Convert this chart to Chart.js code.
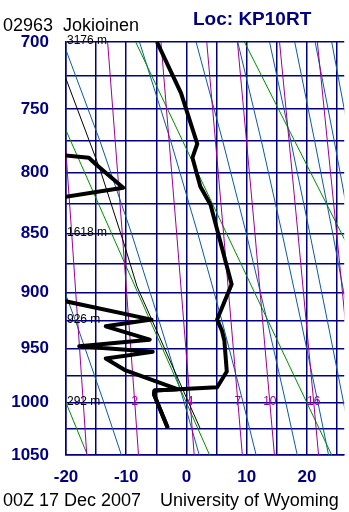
<!DOCTYPE html>
<html><head><meta charset="utf-8">
<script src="https://cdn.jsdelivr.net/npm/chart.js@4/dist/chart.umd.min.js"></script>
<style>html,body{margin:0;padding:0;background:#fff;overflow:hidden}canvas{display:block}</style>
</head><body>
<canvas id="c" width="349" height="512"></canvas>
<script>
// ---------- axes ----------
const pressureTicks = [700,725,750,775,800,825,850,875,900,925,950,975,1000,1025,1050];
const pressureLabels = [700,750,800,850,900,950,1000,1050];
const tempTicks = [-20,-15,-10,-5,0,5,10,15,20,25];
const tempLabels = [-20,-10,0,10,20];

// ---------- sounding (hPa, degC) ----------
const tempP = [700, 738, 777, 788, 811, 826, 893, 924, 934, 943, 971, 985.5, 988.5, 992, 1024];
const tempT = [-4.9, -0.9, 1.8, 1.0, 2.3, 4.0, 7.5, 5.1, 5.9, 6.3, 6.7, 5.1, -5.3, -5.4, -3.1];
const dewP = [700, 738, 777, 788, 793, 812, 826, 893, 924, 930, 942, 948, 953, 959, 970, 987.3, 988.5, 992, 1024];
const dewT = [-45, -42, -40, -16.2, -15.1, -10.5, -28.6, -33.4, -5.8, -13.4, -6.1, -17.8, -5.6, -13.4, -10.1, -1.5, -5.3, -5.4, -3.1];
const parcelP = [700, 726, 798, 861, 895, 1024.7];
const parcelT = [-22.3, -20.1, -14.3, -10.2, -8.2, 2.3];

// ---------- dry adiabats (green), theta -20,0,20,40 C ----------
const dryLevels = [700, 1050];
const dryAt700 = [-44.55, -26.49, -8.43, 9.63];
const dryAt1050 = [-16.44, 3.84, 24.12, 44.40];

// ---------- moist adiabats (blue) ----------
const moistLevels = [700, 775, 850, 925, 1000, 1050];
const moist263 = [-36.2, -29.7, -23.8, -18.43, -13.7, -10.8];
const moist283 = [-20.5, -14.35, -9.1, -4.55, -0.36, 2.13];
const moist303 = [-7.8, -2.6, 1.9, 5.89, 9.42, 11.57];
const moist323 = [1.6, 6.03, 9.95, 13.4, 16.5, 18.4];
const moist343 = [8.52, 12.45, 15.9, 19.0, 21.84, 23.6];
const moist363 = [13.8, 17.34, 20.5, 23.4, 26.1, 27.8];
const moist383 = [17.98, 21.3, 24.3, 27.0];
const moist403 = [21.37, 24.55, 27.4];
const moist423 = [24.12, 27.2];

// ---------- mixing ratio lines (purple), g/kg ----------
const mixValues = [1, 2, 4, 7, 10, 16, 24];
const mixLevels = [700, 850, 1000, 1050];
const mixAt700 = [-21.30, -13.09, -4.23, 3.37, 8.47, 15.46, 21.74];
const mixAt850 = [-19.05, -10.65, -1.62, 6.17, 11.38, 18.52, 24.95];
const mixAt1000 = [-17.13, -8.58, 0.62, 8.55, 13.85, 21.14, 27.7];
const mixAt1050 = [-16.55, -7.96, 1.29, 9.28, 14.61, 21.94, 28.5];
const mixLabelled = [2, 4, 7, 10, 16];

// ---------- height labels ----------
const heightLevels = [700, 850, 925, 1000];
const heightValues = [3176, 1618, 926, 292];

const KAPPA = 0.286;
const yv = p => Math.pow(p, KAPPA);
const py = v => Math.pow(v, 1 / KAPPA);
const NAVY = '#000080';
const FONT = '"Liberation Sans", Arial, Helvetica, sans-serif';

function series(ps, ts) { return ts.map((t, i) => ({x: t, y: yv(ps[i])})); }
function line(data, color, width, order) {
  return {data, borderColor: color, borderWidth: width, order, clip: 0,
          pointRadius: 0, tension: 0, fill: false, borderJoinStyle: 'round', borderCapStyle: 'butt'};
}

const datasets = [];
datasets.push(line(series(tempP, tempT), '#000', 4, 0));
datasets.push(line(series(dewP, dewT), '#000', 4, 0));
datasets.push(line(series(parcelP, parcelT), '#000', 1, 1));
for (let i = 0; i < dryAt700.length; i++) {
  datasets.push(line(series(dryLevels, [dryAt700[i], dryAt1050[i]]), '#008c00', 1, 3));
}
[moist263, moist283, moist303, moist323, moist343, moist363, moist383, moist403, moist423].forEach(m => {
  datasets.push(line(series(moistLevels.slice(0, m.length), m), '#0b5aa5', 1, 4));
});
for (let i = 0; i < mixValues.length; i++) {
  datasets.push(line(series(mixLevels, [mixAt700[i], mixAt850[i], mixAt1000[i], mixAt1050[i]]), '#990099', 1, 2));
}

const textPlugin = {
  id: 'texts',
  afterDatasetsDraw(chart) {
    const ctx = chart.ctx, xs = chart.scales.x, ys = chart.scales.y, ca = chart.chartArea;
    ctx.save();
    // height labels
    ctx.fillStyle = '#000';
    ctx.font = '12px ' + FONT;
    ctx.textAlign = 'left';
    ctx.textBaseline = 'middle';
    heightLevels.forEach((p, i) => {
      ctx.fillText(heightValues[i] + ' m', ca.left + 1, ys.getPixelForValue(yv(p)) - 1);
    });
    // mixing ratio labels at 1000 hPa
    ctx.fillStyle = '#990099';
    ctx.textAlign = 'center';
    mixLabelled.forEach(w => {
      const i = mixValues.indexOf(w);
      ctx.fillText(String(w), xs.getPixelForValue(mixAt1000[i]), ys.getPixelForValue(yv(1000)) - 1);
    });
    ctx.restore();
  },
  afterDraw(chart) {
    const ctx = chart.ctx;
    ctx.save();
    ctx.textBaseline = 'alphabetic';
    ctx.textAlign = 'left';
    ctx.fillStyle = '#000';
    ctx.font = '18px ' + FONT;
    ctx.fillText('02963  Jokioinen', 3, 31);
    ctx.fillText('00Z 17 Dec 2007', 3, 506);
    ctx.fillText('University of Wyoming', 160, 506);
    ctx.fillStyle = NAVY;
    ctx.font = 'bold 19px ' + FONT;
    ctx.fillText('Loc: KP10RT', 193, 25);
    ctx.restore();
  }
};

new Chart(document.getElementById('c'), {
  type: 'line',
  data: {datasets},
  plugins: [textPlugin],
  options: {
    responsive: false,
    animation: false,
    parsing: false,
    normalized: true,
    layout: {padding: {top: 42, right: 0, left: 0, bottom: 0}},
    plugins: {legend: {display: false}, tooltip: {enabled: false}, title: {display: false}},
    scales: {
      x: {
        type: 'linear', position: 'bottom', min: -20, max: 26.2,
        afterBuildTicks: s => { s.ticks = tempTicks.map(v => ({value: v})); },
        afterFit: s => { s.height = 57; },
        ticks: {autoSkip: false, maxRotation: 0, padding: 12, color: NAVY,
                font: {family: FONT, size: 17, weight: 'bold'},
                callback: v => tempLabels.includes(v) ? String(v) : ''},
        grid: {color: NAVY, lineWidth: 1.5, drawTicks: false},
        border: {display: true, color: NAVY, width: 1.5}
      },
      y: {
        type: 'linear', position: 'left', reverse: true, min: yv(700), max: yv(1050),
        afterBuildTicks: s => { s.ticks = pressureTicks.map(p => ({value: yv(p)})); },
        afterFit: s => { s.width = 66; },
        ticks: {autoSkip: false, padding: 17, color: NAVY,
                font: {family: FONT, size: 17, weight: 'bold'},
                callback: v => { const p = Math.round(py(v)); return pressureLabels.includes(p) ? String(p) : ''; }},
        grid: {color: NAVY, lineWidth: 1.5, drawTicks: false},
        border: {display: true, color: NAVY, width: 1.5}
      }
    }
  }
});
</script>
</body></html>
